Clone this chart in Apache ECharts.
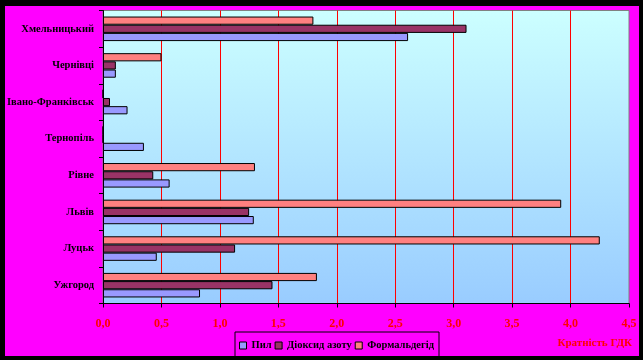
<!DOCTYPE html>
<html><head><meta charset="utf-8">
<script src="https://cdn.jsdelivr.net/npm/echarts@6/dist/echarts.min.js"></script>
<style>
html,body{margin:0;padding:0;background:#000;}
#wrap{position:relative;width:643px;height:360px;background:#000;overflow:hidden;}
#c{position:absolute;left:5px;top:6px;width:634px;height:350px;}
</style></head>
<body><div id="wrap"><div id="c"></div></div>
<script>
const cities = ['Хмельницький','Чернівці','Івано-Франківськ','Тернопіль','Рівне','Львів','Луцьк','Ужгород'];
const dust = [2.61, 0.11, 0.21, 0.35, 0.57, 1.29, 0.46, 0.83];
const no2 = [3.11, 0.11, 0.06, 0, 0.43, 1.25, 1.13, 1.45];
const formaldehyde = [1.80, 0.50, 0, 0, 1.30, 3.92, 4.25, 1.83];
const seriesNames = ['Пил','Діоксид азоту','Формальдегід'];
const xTicks = [0, 4.5, 0.5];

const font = '"Liberation Serif","Times New Roman",serif';
const chart = echarts.init(document.getElementById('c'));
function bar(name, data, color){
  return {name, type:'bar', data, barGap:'0%', barCategoryGap:'33%',
    itemStyle:{color, borderColor:'#000', borderWidth:1}};
}
chart.setOption({
  backgroundColor:'#FF00FF',
  animation:false,
  grid:{left:98, top:4.5, width:526, height:293, show:true, containLabel:false, outerBoundsMode:'none',
    backgroundColor:{type:'linear',x:0,y:0,x2:0,y2:1,colorStops:[{offset:0,color:'#CCFFFF'},{offset:1,color:'#99CCFF'}]},
    borderColor:'#808080', borderWidth:1},
  xAxis:{type:'value', min:xTicks[0], max:xTicks[1], interval:xTicks[2],
    axisLine:{show:true, lineStyle:{color:'#000', width:1}},
    axisTick:{show:true, length:4, lineStyle:{color:'#000'}},
    splitLine:{show:true, showMinLine:false, showMaxLine:false, lineStyle:{color:'#FF0000', width:1}},
    axisLabel:{color:'#FF0000', fontFamily:font, fontWeight:'bold', fontSize:12, margin:14,
      formatter:v=>v.toFixed(1).replace('.',',')}},
  yAxis:{type:'category', data:cities, inverse:true,
    axisLine:{show:true, lineStyle:{color:'#000', width:1}},
    axisTick:{show:true, length:4, lineStyle:{color:'#000'}},
    axisLabel:{color:'#000', fontFamily:font, fontWeight:'bold', fontSize:10.5, margin:9}},
  legend:{data:seriesNames, left:230, top:326, orient:'horizontal',
    borderColor:'#000', borderWidth:1, padding:[8,5,9,4], itemGap:3,
    itemWidth:7, itemHeight:7, icon:'rect',
    itemStyle:{borderColor:'#000', borderWidth:1},
    textStyle:{color:'#000', fontFamily:font, fontWeight:'bold', fontSize:10.5}},
  graphic:[{type:'text', right:7, top:332, style:{text:'Кратність ГДК', fill:'#FF0000', font:'bold 11px '+font}}],
  series:[
    bar(seriesNames[2], formaldehyde, '#FF8080'),
    bar(seriesNames[1], no2, '#993366'),
    bar(seriesNames[0], dust, '#9999FF')
  ]
});
</script></body></html>
